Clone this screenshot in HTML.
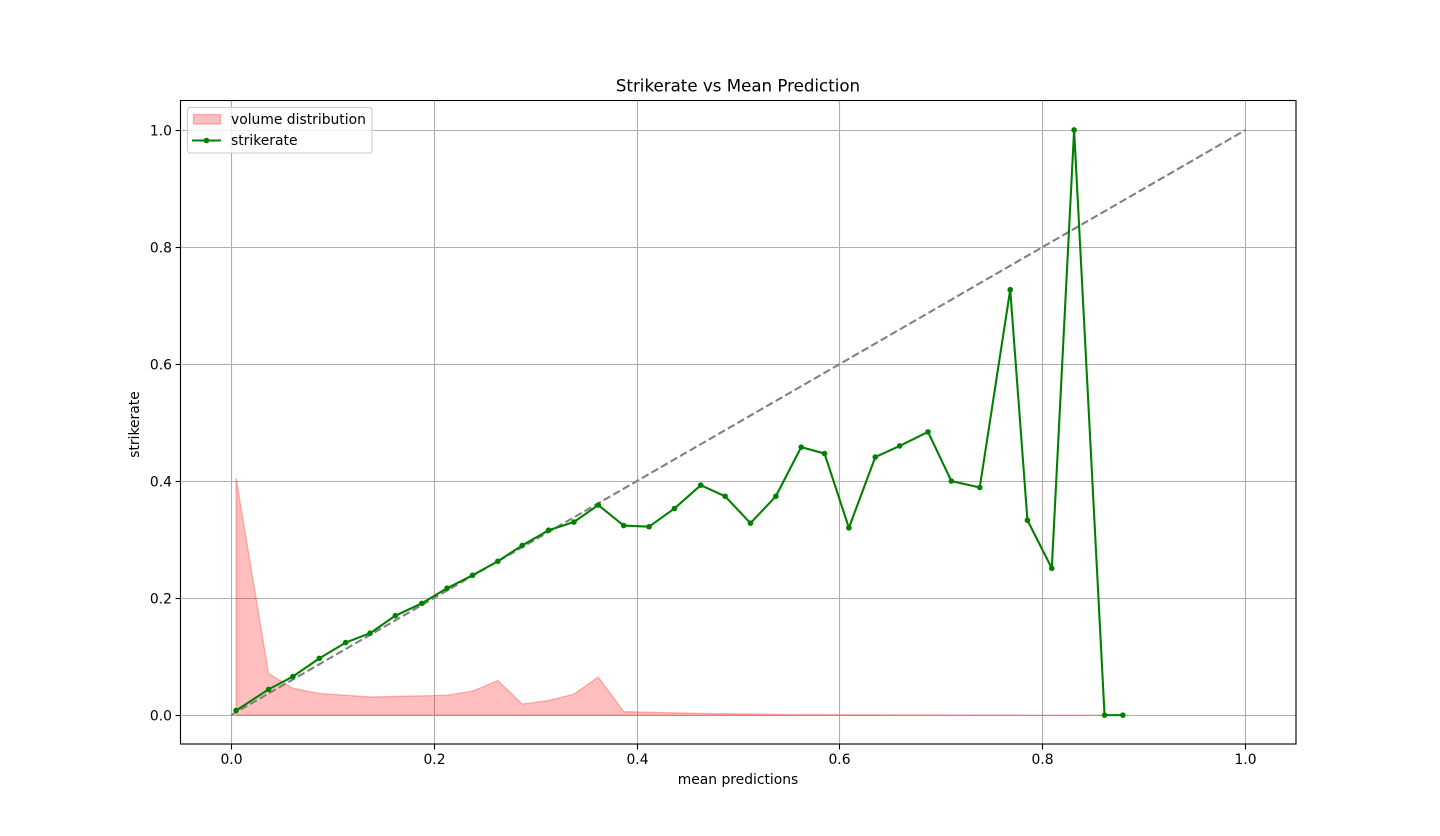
<!DOCTYPE html>
<html>
<head>
<meta charset="utf-8">
<style>
html,body{margin:0;padding:0;background:#fff;width:1440px;height:836px;overflow:hidden}
svg{display:block}
text{font-family:"DejaVu Sans","Liberation Sans",sans-serif;fill:#000}
</style>
</head>
<body>
<svg id="chart" xmlns="http://www.w3.org/2000/svg" width="1440" height="836" viewBox="0 0 1440 836">
  <rect x="0" y="0" width="1440" height="836" fill="#fff"/>
  <g id="grid"></g>
  <g id="series" transform="translate(0.3,0.4)"></g>
  <rect x="180.5" y="100.5" width="1115.5" height="643.5" fill="none" stroke="#000" stroke-width="1.11"/>
  <g id="ticks"></g>
  <text x="738" y="91.5" font-size="16.67" text-anchor="middle">Strikerate vs Mean Prediction</text>
  <text x="738" y="784" font-size="13.89" text-anchor="middle">mean predictions</text>
  <text transform="translate(139,424.5) rotate(-90)" font-size="13.89" text-anchor="middle">strikerate</text>
  <g>
    <rect x="187.5" y="107.5" width="184.5" height="45.5" rx="2.8" fill="#fff" fill-opacity="0.8" stroke="#ccc" stroke-width="1.11"/>
    <rect x="193.5" y="114.5" width="27" height="9.5" fill="#ff0000" fill-opacity="0.25" stroke="#ff0000" stroke-opacity="0.25" stroke-width="1.39"/>
    <text x="231" y="124" font-size="13.89">volume distribution</text>
    <line x1="192" y1="140.5" x2="221" y2="140.5" stroke="#008000" stroke-width="2.08"/>
    <circle cx="206.5" cy="140.5" r="2.8" fill="#008000"/>
    <text x="231" y="145" font-size="13.89">strikerate</text>
  </g>
</svg>
<script>
const meanPredictions = [0.005,0.037,0.061,0.087,0.113,0.137,0.162,0.188,0.213,0.238,0.263,0.287,0.313,0.338,0.362,0.387,0.412,0.437,0.463,0.487,0.512,0.537,0.562,0.585,0.609,0.635,0.659,0.687,0.710,0.738,0.768,0.785,0.809,0.831,0.861,0.879];
const strikerateValues = [0.008,0.044,0.066,0.097,0.124,0.140,0.170,0.191,0.217,0.239,0.263,0.290,0.316,0.330,0.359,0.324,0.322,0.353,0.393,0.374,0.328,0.374,0.458,0.447,0.320,0.441,0.460,0.484,0.400,0.389,0.727,0.333,0.251,1.000,0.000,0.000];
const volumeValues = [0.405,0.071,0.046,0.037,0.034,0.031,0.032,0.033,0.034,0.041,0.059,0.019,0.025,0.036,0.065,0.006,0.005,0.004,0.003,0.0025,0.002,0.0015,0.001,0.001,0.0008,0.0007,0.0006,0.0005,0.0004,0.0003,0.0003,0.0002,0.0002,0.0001,0.0001];
const volumeX = meanPredictions.slice(0, 35);
const xTickValues = [0.0,0.2,0.4,0.6,0.8,1.0];
const yTickValues = [0.0,0.2,0.4,0.6,0.8,1.0];
const diagonalLine = [0,1];

const NS = 'http://www.w3.org/2000/svg';
const plotLeft = 180, plotRight = 1296, plotTop = 100.3, plotBottom = 744;
const xDomain = [-0.05, 1.05];
const yDomain = [-0.05, 1.05];
function sx(v){ return plotLeft + (v - xDomain[0]) / (xDomain[1] - xDomain[0]) * (plotRight - plotLeft); }
function sy(v){ return plotBottom - (v - yDomain[0]) / (yDomain[1] - yDomain[0]) * (plotBottom - plotTop); }
function make(tag, attrs, parent){
  const el = document.createElementNS(NS, tag);
  for (const k in attrs) el.setAttribute(k, attrs[k]);
  parent.appendChild(el);
  return el;
}
const gridG = document.getElementById('grid');
const seriesG = document.getElementById('series');
const ticksG = document.getElementById('ticks');

xTickValues.forEach(function(v){
  const x = Math.round(sx(v)) + 0.5;
  const g = make('line', {x1:x, x2:x, y1:100.5, y2:744.5, stroke:'#b0b0b0', 'stroke-width':1.11}, gridG);
  
  
  const t = make('line', {x1:x, x2:x, y1:744.5, y2:749.4, stroke:'#000', 'stroke-width':1.11}, ticksG);
  
  
  const l = make('text', {x:x, y:764, 'font-size':13.89, 'text-anchor':'middle'}, ticksG);
  
  
  l.textContent = v.toFixed(1);
});
yTickValues.forEach(function(v){
  const y = Math.round(sy(v)) + 0.5;
  const g = make('line', {x1:180.5, x2:1296, y1:y, y2:y, stroke:'#b0b0b0', 'stroke-width':1.11}, gridG);
  
  
  const t = make('line', {x1:175.6, x2:180.5, y1:y, y2:y, stroke:'#000', 'stroke-width':1.11}, ticksG);
  
  
  const l = make('text', {x:172, y:y + 5, 'font-size':13.89, 'text-anchor':'end'}, ticksG);
  
  
  l.textContent = v.toFixed(1);
});

let areaPts = sx(volumeX[0]).toFixed(2) + ',' + sy(0).toFixed(2);
volumeX.forEach(function(v, i){
  areaPts += ' ' + sx(v).toFixed(2) + ',' + sy(volumeValues[i]).toFixed(2);
});
areaPts += ' ' + sx(volumeX[volumeX.length - 1]).toFixed(2) + ',' + sy(0).toFixed(2);
const area = make('polygon', {points:areaPts, fill:'#ff0000', 'fill-opacity':0.25, stroke:'#ff0000', 'stroke-opacity':0.25, 'stroke-width':1.39, 'stroke-linejoin':'miter'}, seriesG);



const diag = make('line', {x1:sx(diagonalLine[0]), y1:sy(diagonalLine[0]), x2:sx(diagonalLine[1]), y2:sy(diagonalLine[1]), stroke:'#808080', 'stroke-width':2.08, 'stroke-dasharray':'7.7 3.33'}, seriesG);



const linePts = meanPredictions.map(function(v, i){
  return sx(v).toFixed(2) + ',' + sy(strikerateValues[i]).toFixed(2);
}).join(' ');
const strikeLine = make('polyline', {points:linePts, fill:'none', stroke:'#008000', 'stroke-width':2.08, 'stroke-linejoin':'round'}, seriesG);



meanPredictions.forEach(function(v, i){
  const c = make('circle', {cx:sx(v), cy:sy(strikerateValues[i]), r:2.8, fill:'#008000'}, seriesG);
  
  
});
</script>
</body>
</html>
